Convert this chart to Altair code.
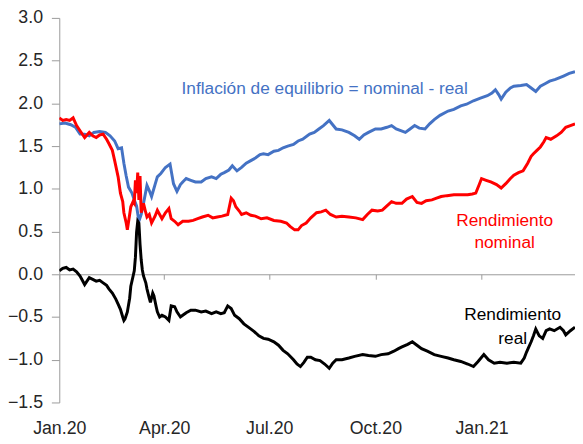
import altair as alt
import pandas as pd

START = pd.Timestamp("2020-01-01")

# Inflación de equilibrio (breakeven), days since 2020-01-01
blue_day = [0, 5, 10, 14, 18, 22, 26, 30, 35, 40, 44, 48, 51, 54, 56, 58, 60, 63, 65, 67, 69, 71, 73, 76, 78, 80, 83, 85, 88,
            92, 96, 99, 102, 105, 107, 110, 114, 118, 123, 127, 132, 136, 140, 143, 147, 150, 154, 158, 162, 166, 170,
            174, 177, 181, 186, 190, 194, 198, 203, 207, 211, 217, 221, 225, 229, 234, 237, 240, 245, 251, 256, 260,
            264, 268, 274, 279, 284, 288, 292, 296, 300, 304, 308, 312, 317, 321, 325, 330, 337, 342, 348, 353, 359,
            365, 371, 375, 378, 381, 383, 387, 391, 394, 400, 405, 409, 413, 417, 421, 425, 430, 437, 442, 447]
blue_val = [1.76, 1.77, 1.75, 1.72, 1.64, 1.64, 1.62, 1.66, 1.67, 1.66, 1.62, 1.56, 1.47, 1.48, 1.30, 1.15, 1.02, 0.95,
            0.87, 0.80, 0.62, 0.70, 0.83, 1.04, 0.98, 0.91, 1.05, 1.14, 1.18, 1.25, 1.29, 1.06, 0.97, 1.05, 1.08, 1.12,
            1.10, 1.08, 1.08, 1.12, 1.14, 1.12, 1.17, 1.19, 1.22, 1.27, 1.21, 1.25, 1.30, 1.33, 1.36, 1.40, 1.41, 1.40,
            1.44, 1.45, 1.48, 1.50, 1.52, 1.56, 1.58, 1.64, 1.66, 1.70, 1.74, 1.80, 1.75, 1.70, 1.69, 1.66, 1.62, 1.58,
            1.63, 1.66, 1.70, 1.70, 1.72, 1.74, 1.70, 1.68, 1.66, 1.70, 1.74, 1.71, 1.70, 1.76, 1.81, 1.86, 1.91, 1.93,
            1.97, 1.99, 2.03, 2.06, 2.09, 2.12, 2.16, 2.10, 2.05, 2.13, 2.18, 2.20, 2.21, 2.22, 2.18, 2.14, 2.20, 2.23,
            2.26, 2.28, 2.32, 2.35, 2.37]

# Rendimiento nominal
red_day = [0, 3, 6, 9, 12, 15, 18, 22, 26, 29, 32, 35, 38, 41, 43, 46, 48, 51, 53, 55, 56, 58, 59, 61, 62, 64, 65, 66,
           67, 68, 69, 70, 71, 73, 75, 76, 78, 80, 83, 85, 87, 89, 92, 95, 97, 100, 103, 107, 112, 116, 120, 124, 129,
           133, 137, 141, 146, 149, 151, 153, 156, 158, 162, 166, 170, 175, 180, 186, 192, 197, 200, 204, 207, 210,
           214, 218, 223, 227, 231, 235, 240, 245, 251, 257, 263, 267, 271, 276, 280, 284, 288, 292, 297, 301, 306,
           310, 314, 318, 323, 327, 331, 336, 342, 348, 354, 358, 361, 364, 366, 370, 374, 379, 383, 387, 391, 394,
           398, 402, 406, 409, 411, 414, 417, 420, 422, 426, 431, 435, 439, 443, 447]
red_val = [1.83, 1.80, 1.81, 1.80, 1.83, 1.74, 1.68, 1.60, 1.66, 1.62, 1.60, 1.63, 1.64, 1.58, 1.53, 1.45, 1.33, 1.14,
           0.95, 0.85, 0.72, 0.60, 0.52, 0.70, 0.79, 0.85, 0.83, 1.10, 0.95, 1.19, 0.87, 1.15, 0.72, 0.83, 0.72, 0.67,
           0.70, 0.60, 0.68, 0.75, 0.70, 0.65, 0.72, 0.77, 0.65, 0.62, 0.58, 0.62, 0.62, 0.63, 0.65, 0.67, 0.69, 0.66,
           0.67, 0.68, 0.70, 0.89, 0.86, 0.79, 0.74, 0.70, 0.72, 0.69, 0.68, 0.65, 0.66, 0.63, 0.62, 0.60, 0.56, 0.52,
           0.52, 0.57, 0.60, 0.66, 0.72, 0.73, 0.75, 0.70, 0.67, 0.68, 0.67, 0.66, 0.64, 0.70, 0.75, 0.74, 0.75, 0.80,
           0.85, 0.83, 0.83, 0.88, 0.91, 0.84, 0.83, 0.86, 0.87, 0.89, 0.91, 0.92, 0.93, 0.93, 0.93, 0.94, 0.95, 1.05,
           1.12, 1.10, 1.08, 1.05, 1.01, 1.06, 1.12, 1.16, 1.19, 1.21, 1.30, 1.38, 1.41, 1.45, 1.49, 1.55, 1.60, 1.58,
           1.62, 1.66, 1.72, 1.74, 1.76]

# Rendimiento real
black_day = [0, 3, 6, 9, 12, 15, 18, 22, 26, 29, 32, 35, 38, 41, 43, 46, 49, 51, 53, 55, 56, 57, 59, 61, 62, 64, 65,
             66, 67, 68, 69, 70, 71, 72, 73, 75, 76, 78, 79, 81, 82, 84, 85, 87, 89, 92, 95, 97, 100, 102, 105, 107,
             110, 114, 118, 123, 127, 132, 136, 140, 143, 146, 149, 152, 156, 160, 165, 169, 173, 177, 181, 186, 190,
             194, 198, 203, 206, 209, 212, 215, 218, 222, 226, 230, 234, 237, 240, 245, 251, 256, 263, 268, 274, 279,
             285, 290, 294, 297, 302, 306, 310, 314, 319, 325, 331, 337, 342, 348, 354, 359, 363, 368, 372, 377, 382,
             388, 394, 400, 403, 405, 407, 409, 411, 413, 416, 419, 422, 425, 429, 434, 437, 439, 443, 447]
black_val = [0.04, 0.07, 0.08, 0.05, 0.06, 0.03, -0.02, -0.12, -0.04, -0.06, -0.08, -0.07, -0.10, -0.13, -0.17, -0.22,
             -0.29, -0.35, -0.41, -0.50, -0.54, -0.52, -0.44, -0.28, -0.14, -0.02, 0.04, 0.20, 0.49, 0.62, 0.60, 0.35,
             0.17, 0.05, -0.02, -0.10, -0.17, -0.28, -0.33, -0.22, -0.25, -0.38, -0.44, -0.50, -0.48, -0.50, -0.54,
             -0.37, -0.38, -0.44, -0.50, -0.48, -0.45, -0.42, -0.42, -0.44, -0.43, -0.46, -0.44, -0.46, -0.45, -0.37,
             -0.40, -0.48, -0.52, -0.58, -0.63, -0.67, -0.72, -0.75, -0.76, -0.79, -0.83, -0.89, -0.93, -1.00, -1.05,
             -1.08, -1.03, -0.97, -0.97, -1.00, -1.01, -1.05, -1.10, -1.04, -1.00, -1.00, -0.98, -0.96, -0.94, -0.95,
             -0.96, -0.94, -0.93, -0.90, -0.87, -0.85, -0.82, -0.79, -0.83, -0.87, -0.90, -0.94, -0.96, -0.98, -1.00,
             -1.02, -1.05, -1.08, -1.02, -0.94, -1.00, -1.04, -1.03, -1.04, -1.03, -1.04, -0.98, -0.91, -0.85, -0.79,
             -0.72, -0.64, -0.72, -0.75, -0.66, -0.64, -0.66, -0.62, -0.66, -0.71, -0.66, -0.62]

series_names = ["Inflación de equilibrio", "Rendimiento nominal", "Rendimiento real"]
series_colors = ["#4472C4", "#FF0000", "#000000"]

# annotations
label_text = ["Inflación de equilibrio = nominal - real", "Rendimiento", "nominal", "Rendimiento", "real"]
label_day = [230, 386, 386, 393, 393]
label_value = [2.11, 0.565, 0.31, -0.54, -0.81]
label_color = ["#4472C4", "#FF0000", "#FF0000", "#000000", "#000000"]

y_ticks = [-1.5, -1.0, -0.5, 0.0, 0.5, 1.0, 1.5, 2.0, 2.5, 3.0]


def to_date(days):
    return [(START + pd.Timedelta(days=int(d))).strftime("%Y-%m-%d") for d in days]


lines_df = pd.concat([
    pd.DataFrame({"date": to_date(blue_day), "value": blue_val, "series": series_names[0], "order": range(len(blue_day))}),
    pd.DataFrame({"date": to_date(red_day), "value": red_val, "series": series_names[1], "order": range(len(red_day))}),
    pd.DataFrame({"date": to_date(black_day), "value": black_val, "series": series_names[2], "order": range(len(black_day))}),
], ignore_index=True)

labels_df = pd.DataFrame({"date": to_date(label_day), "value": label_value, "text": label_text, "color": label_color})

FONT = "Liberation Sans, Arial, sans-serif"

x_scale = alt.Scale(
    type="utc",
    domain=[alt.DateTime(year=2020, month=1, date=1, utc=True), alt.DateTime(year=2021, month=3, date=23, utc=True)],
)
x_values = [alt.DateTime(year=2020, month=m, date=1, utc=True) for m in (1, 4, 7, 10)] + [
    alt.DateTime(year=2021, month=1, date=1, utc=True)]

x_enc = alt.X(
    "date:T",
    scale=x_scale,
    title=None,
    axis=alt.Axis(
        values=x_values,
        labelExpr="utcFormat(datum.value, '%b') + '.' + utcFormat(datum.value, '%y')",
        offset=-130,
        domain=True,
        domainColor="#9a9a9a",
        domainWidth=1,
        ticks=True,
        tickColor="#9a9a9a",
        tickSize=5,
        labelPadding=142,
        labelFont=FONT,
        labelFontSize=18,
        labelFlush=False,
        labelOverlap=False,
        labelBound=False,
        grid=False,
    ),
)

y_enc = alt.Y(
    "value:Q",
    scale=alt.Scale(domain=[-1.5, 3.0], nice=False, zero=False),
    title=None,
    axis=alt.Axis(
        values=y_ticks,
        format=".1f",
        domainColor="#9a9a9a",
        tickColor="#9a9a9a",
        tickSize=8,
        labelPadding=9,
        labelFont=FONT,
        labelFontSize=18,
        grid=False,
    ),
)

lines = alt.Chart(lines_df).mark_line(strokeWidth=3, clip=True).encode(
    x=x_enc,
    y=y_enc,
    order="order:Q",
    color=alt.Color("series:N", scale=alt.Scale(domain=series_names, range=series_colors), legend=None),
)

texts = alt.Chart(labels_df).mark_text(
    font=FONT, fontSize=17.5, align="center", baseline="alphabetic"
).encode(
    x=alt.X("date:T"),
    y=alt.Y("value:Q"),
    text="text:N",
    color=alt.Color("color:N", scale=None),
)

chart = alt.layer(lines, texts).properties(
    width=523,
    height=390,
    autosize=alt.AutoSizeParams(type="none"),
    padding={"left": 52, "top": 7, "right": 0, "bottom": 34},
    background="white",
).configure_view(stroke=None).configure_axis(
    labelColor="#262626",
)

chart.save("out.html", embed_options={"renderer": "svg", "actions": False})
